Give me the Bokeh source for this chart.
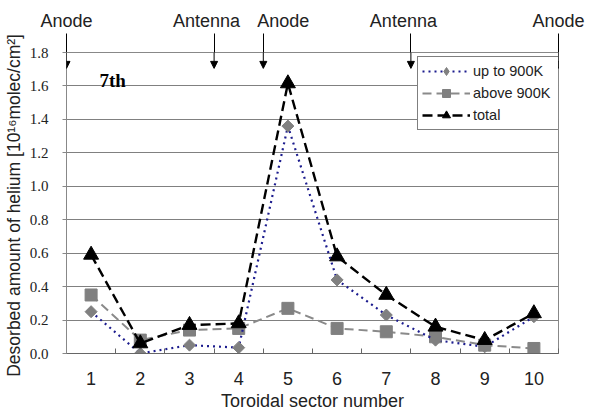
import numpy as np
from bokeh.plotting import figure
from bokeh.models import (Range1d, FixedTicker, PrintfTickFormatter, Label, Arrow,
                          NormalHead, Legend, LegendItem, LinearAxis)
from bokeh.embed import file_html
from bokeh.resources import INLINE

# ---- data ----
sectors = [1, 2, 3, 4, 5, 6, 7, 8, 9, 10]
up_to_900K = [0.25, 0.00, 0.05, 0.035, 1.36, 0.44, 0.23, 0.08, 0.04, 0.22]
above_900K = [0.35, 0.08, 0.14, 0.15, 0.27, 0.15, 0.13, 0.10, 0.05, 0.03]
total = [0.59, 0.06, 0.17, 0.18, 1.615, 0.58, 0.35, 0.16, 0.08, 0.24]
y_ticks = [0.0, 0.2, 0.4, 0.6, 0.8, 1.0, 1.2, 1.4, 1.6, 1.8]
boundary_ticks = [0.5, 1.5, 2.5, 3.5, 4.5, 5.5, 6.5, 7.5, 8.5, 9.5, 10.5]
marker_pos = [0.5, 3.5, 4.5, 7.5, 10.5]
marker_names = ["Anode", "Antenna", "Anode", "Antenna", "Anode"]

FONT = "Liberation Sans"
NARROW = "Liberation Sans Narrow"
TXT = "#222222"
NB = "\u00a0"

p = figure(width=590, height=416, output_backend="svg", toolbar_location=None,
           x_range=Range1d(0.5, 10.5), y_range=Range1d(0, 1.8),
           min_border_left=66, min_border_right=32, min_border_top=52,
           min_border_bottom=63)
p.outline_line_color = "#888888"
p.outline_line_width = 1
p.background_fill_color = "white"
p.border_fill_color = "white"

# x axis
p.xaxis.ticker = FixedTicker(ticks=sectors, minor_ticks=boundary_ticks)
p.xaxis.major_tick_in = 0
p.xaxis.major_tick_out = 0
p.xaxis.minor_tick_in = 5
p.xaxis.minor_tick_out = 0
p.xaxis.minor_tick_line_color = "#666666"
p.xaxis.axis_line_color = "#666666"
p.xaxis.major_label_standoff = 18
p.xaxis.major_label_text_font = FONT
p.xaxis.major_label_text_font_size = "18px"
p.xaxis.major_label_text_color = TXT
p.xaxis.axis_label = "Toroidal sector number"
p.xaxis.axis_label_text_font = FONT
p.xaxis.axis_label_text_font_size = "18px"
p.xaxis.axis_label_text_font_style = "normal"
p.xaxis.axis_label_text_color = TXT
p.xaxis.axis_label_standoff = 3

# y axis
p.yaxis.ticker = FixedTicker(ticks=y_ticks)
p.yaxis.formatter = PrintfTickFormatter(format="%.1f")
p.yaxis.major_tick_in = 0
p.yaxis.major_tick_out = 4
p.yaxis.minor_tick_line_color = None
p.yaxis.major_tick_line_color = "#888888"
p.yaxis.axis_line_color = "#888888"
p.yaxis.major_label_standoff = 14
p.yaxis.major_label_text_font = NARROW
p.yaxis.major_label_text_font_size = "15px"
p.yaxis.major_label_text_color = TXT
p.yaxis.axis_label = "Desorbed amount of helium  [10¹⁶molec/cm²]"
p.yaxis.axis_label_text_font = FONT
p.yaxis.axis_label_text_font_size = "17.5px"
p.yaxis.axis_label_text_font_style = "normal"
p.yaxis.axis_label_text_color = TXT
p.yaxis.axis_label_standoff = 3

p.xgrid.grid_line_color = None
p.ygrid.ticker = FixedTicker(ticks=y_ticks[1:])
p.ygrid.grid_line_color = "#808080"
p.ygrid.grid_line_width = 1

# top axis: positions of anodes / antennas (labels nudged like the original)
top_labels = []
for i, name in enumerate(marker_names):
    if name == "Antenna":
        top_labels.append(name + NB * 3)
    elif 0 < i < len(marker_names) - 1:
        top_labels.append(NB * 8 + name)
    else:
        top_labels.append(name)
top = LinearAxis(ticker=FixedTicker(ticks=marker_pos),
                 major_label_overrides=dict(zip(marker_pos, top_labels)))
top.axis_line_color = None
top.major_tick_out = 19
top.major_tick_in = 0
top.minor_tick_line_color = None
top.major_tick_line_color = "black"
top.major_label_standoff = 3
top.major_label_text_font = FONT
top.major_label_text_font_size = "18px"
top.major_label_text_color = TXT
p.add_layout(top, "above")

for xp in marker_pos:
    p.add_layout(Arrow(x_start=xp, y_start=1.8, x_end=xp, y_end=1.705,
                       end=NormalHead(size=7, fill_color="black", line_color="black"),
                       line_color="black", line_width=1))

# series
l2 = p.line(sectors, above_900K, line_color="#8a8a8a", line_width=2, line_dash="9 5")
s2 = p.scatter(sectors, above_900K, marker="square", size=12, fill_color="#808080",
               line_color="#808080")
l1 = p.line(sectors, up_to_900K, line_color="#1c1c8e", line_width=2.2, line_dash="2 4")
s1 = p.scatter(sectors, up_to_900K, marker="square", angle=np.pi / 4, size=8.5,
               fill_color="#808080", line_color="#808080")
# legend-only diamond swatch
s1_leg = p.scatter([np.nan], [np.nan], marker="diamond", size=14,
                   fill_color="#808080", line_color="#808080")
l3 = p.line(sectors, total, line_color="black", line_width=2.4, line_dash="10 5")
s3 = p.scatter(sectors, total, marker="triangle", size=15, fill_color="black",
               line_color="black")

p.add_layout(Label(x=1.17, y=1.633, text="7th", text_font="Liberation Serif",
                   text_font_style="bold", text_font_size="19px", text_color="black",
                   text_baseline="alphabetic"))

legend = Legend(items=[LegendItem(label="up to 900K", renderers=[l1, s1_leg]),
                       LegendItem(label="above 900K", renderers=[l2, s2]),
                       LegendItem(label="total", renderers=[l3, s3])],
                location=(351, 223), glyph_width=48, glyph_height=20, spacing=2,
                padding=4, margin=0, label_standoff=3, label_width=82,
                label_text_font=FONT, label_text_font_size="14.5px",
                label_text_color=TXT, border_line_color="black",
                border_line_width=1, background_fill_color="white",
                background_fill_alpha=1)
p.add_layout(legend)

open("out.html", "w").write(file_html(p, INLINE))
